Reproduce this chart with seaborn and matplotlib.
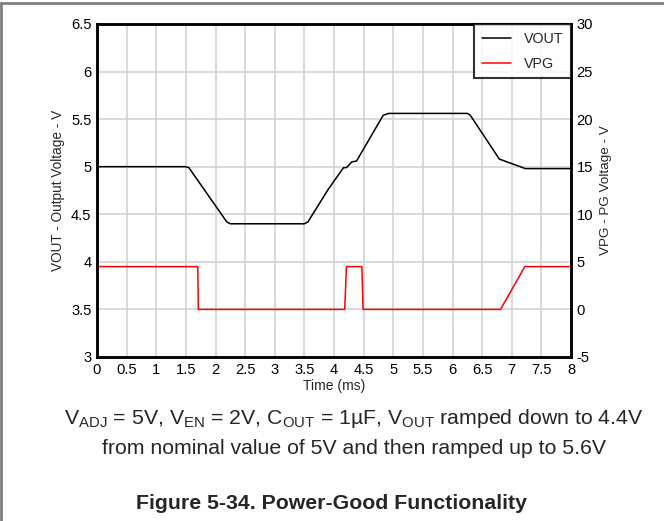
import matplotlib
matplotlib.use("Agg")
import matplotlib.pyplot as plt
from matplotlib.lines import Line2D
from matplotlib.ticker import MultipleLocator, FormatStrFormatter
import pandas as pd
import seaborn as sns

# Datos
t_vout = [0.0, 1.49, 1.55, 2.19, 2.25, 3.50, 3.56, 3.90, 4.16, 4.21, 4.30, 4.38,
          4.83, 4.92, 6.25, 6.30, 6.79, 7.23, 8.0]
vout = [5.00, 5.00, 4.99, 4.42, 4.40, 4.40, 4.42, 4.76, 4.99, 4.99, 5.05, 5.06,
        5.54, 5.56, 5.56, 5.54, 5.08, 4.98, 4.98]

t_vpg = [0.0, 1.70, 1.71, 4.18, 4.21, 4.47, 4.49, 6.81, 7.22, 8.0]
vpg = [4.5, 4.5, 0.0, 0.0, 4.5, 4.5, 0.0, 0.0, 4.5, 4.5]

x_ticks = [0, 0.5, 1, 1.5, 2, 2.5, 3, 3.5, 4, 4.5, 5, 5.5, 6, 6.5, 7, 7.5, 8]

df_vout = pd.DataFrame({"t": t_vout, "v": vout})
df_vpg = pd.DataFrame({"t": t_vpg, "v": vpg})

sns.set_style("white")
plt.rcParams["font.family"] = ["Liberation Sans", "DejaVu Sans"]
plt.rcParams["mathtext.fontset"] = "custom"
plt.rcParams["mathtext.rm"] = "Liberation Sans"
plt.rcParams["axes.unicode_minus"] = False

fig = plt.figure(figsize=(6.64, 5.21), dpi=100)
ax = fig.add_axes([0.1461, 0.3148, 0.7139, 0.6392])
ax2 = ax.twinx()

sns.lineplot(data=df_vout, x="t", y="v", ax=ax, color="black", linewidth=1.1,
             estimator=None, sort=False)
sns.lineplot(data=df_vpg, x="t", y="v", ax=ax2, color="red", linewidth=1.1,
             estimator=None, sort=False)

ax.set_xlim(0, 8)
ax.set_ylim(3, 6.5)
ax2.set_ylim(-5, 30)
ax.set_xticks(x_ticks)
ax.xaxis.set_major_formatter(FormatStrFormatter("%g"))
ax.yaxis.set_major_locator(MultipleLocator(0.5))
ax.yaxis.set_major_formatter(FormatStrFormatter("%g"))
ax2.yaxis.set_major_locator(MultipleLocator(5))

ax.grid(True, color="#d3d3d3", linewidth=1.2)
ax.set_axisbelow(True)
for a in (ax, ax2):
    a.tick_params(length=0, labelsize=10.6, pad=4, colors="black")
    for s in a.spines.values():
        s.set_color("black")
        s.set_linewidth(1.8)

ax.set_xlabel("Time (ms)", fontsize=10, labelpad=1.5)
ax.set_ylabel("VOUT - Output Voltage - V", fontsize=9.8, labelpad=4)
ax2.set_ylabel("VPG - PG Voltage - V", fontsize=9.7, labelpad=5)

handles = [Line2D([], [], color="black", linewidth=1.1),
           Line2D([], [], color="red", linewidth=1.1)]
leg = ax2.legend(handles, ["VOUT", "VPG"], loc="upper right", fontsize=10.3,
                 frameon=True, fancybox=False, borderaxespad=0,
                 handlelength=2.0, handletextpad=0.9, borderpad=0.55,
                 labelspacing=0.75)
leg.get_frame().set_edgecolor("black")
leg.get_frame().set_linewidth(1.5)

fig.text(0.533, 0.197,
         r"V$_\mathrm{ADJ}$ = 5V, V$_\mathrm{EN}$ = 2V, C$_\mathrm{OUT}$ = 1µF, "
         r"V$_\mathrm{OUT}$ ramped down to 4.4V",
         ha="center", va="center", fontsize=15.3)
fig.text(0.533, 0.139, "from nominal value of 5V and then ramped up to 5.6V",
         ha="center", va="center", fontsize=15.3)
fig.text(0.5, 0.034, "Figure 5-34. Power-Good Functionality",
         ha="center", va="center", fontsize=15.3, fontweight="bold")

# borde de la página
fig.add_artist(Line2D([0, 1], [0.994, 0.994], transform=fig.transFigure,
                      color="#808080", linewidth=2))
fig.add_artist(Line2D([0.002, 0.002], [0, 0.994], transform=fig.transFigure,
                      color="#808080", linewidth=2))

fig.savefig("out.png", dpi=100)
